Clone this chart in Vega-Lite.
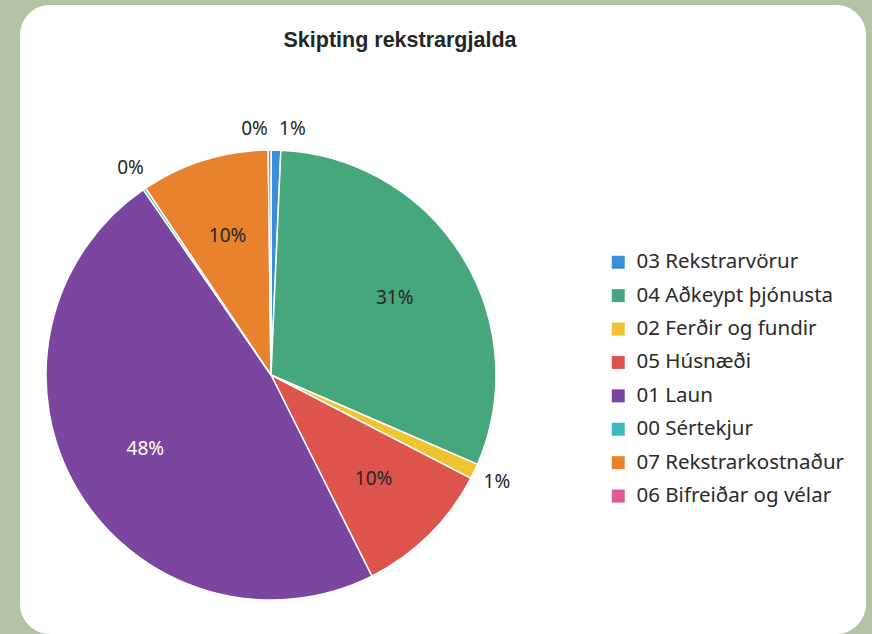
{
  "$schema": "https://vega.github.io/schema/vega-lite/v6.json",
  "width": 846,
  "height": 629,
  "autosize": {"type": "none"},
  "padding": {"left": 20, "top": 5, "right": 6, "bottom": 0},
  "background": "#b4c3a4",
  "view": {"fill": "white", "cornerRadius": 30, "stroke": null},
  "title": {
    "text": "Skipting rekstrargjalda",
    "font": "Liberation Sans",
    "fontSize": 21.5,
    "fontWeight": "bold",
    "color": "#252525",
    "offset": -46,
    "dx": -43
  },
  "data": {
    "values": [
      {"cat": "03 Rekstrarvörur", "value": 0.7, "rank": 1, "label": "1%"},
      {"cat": "04 Aðkeypt þjónusta", "value": 30.8, "rank": 2, "label": "31%"},
      {"cat": "02 Ferðir og fundir", "value": 1.1, "rank": 3, "label": "1%"},
      {"cat": "05 Húsnæði", "value": 10.0, "rank": 4, "label": "10%"},
      {"cat": "01 Laun", "value": 47.8, "rank": 5, "label": "48%"},
      {"cat": "00 Sértekjur", "value": 0.2, "rank": 6, "label": "0%"},
      {"cat": "07 Rekstrarkostnaður", "value": 9.2, "rank": 7, "label": "10%"},
      {"cat": "06 Bifreiðar og vélar", "value": 0.2, "rank": 8, "label": "0%"}
    ]
  },
  "encoding": {
    "theta": {"field": "value", "type": "quantitative", "stack": true},
    "order": {"field": "rank", "type": "quantitative"},
    "x": {"value": 251},
    "y": {"value": 370}
  },
  "layer": [
    {
      "mark": {"type": "arc", "outerRadius": 225, "stroke": "white", "strokeWidth": 1.5},
      "encoding": {
        "color": {
          "field": "cat",
          "type": "nominal",
          "scale": {
            "domain": ["03 Rekstrarvörur", "04 Aðkeypt þjónusta", "02 Ferðir og fundir", "05 Húsnæði", "01 Laun", "00 Sértekjur", "07 Rekstrarkostnaður", "06 Bifreiðar og vélar"],
            "range": ["#3a8fdc", "#46a77c", "#f1c232", "#dc544b", "#7b46a0", "#3bbcbc", "#e8822e", "#df5a91"]
          },
          "legend": {
            "title": null,
            "orient": "none",
            "legendX": 588,
            "legendY": 247,
            "symbolType": "square",
            "symbolSize": 169,
            "symbolStrokeWidth": 0,
            "labelFont": "Noto Sans",
            "labelFontSize": 20.5,
            "labelColor": "#2a2a2a",
            "labelOffset": 8,
            "labelLimit": 400,
            "rowPadding": 12.4
          }
        }
      }
    },
    {
      "mark": {"type": "text", "radius": 146, "font": "Noto Sans", "fontSize": 19},
      "encoding": {
        "text": {"condition": {"test": "datum.value >= 5", "field": "label"}, "value": ""},
        "color": {"condition": {"test": "datum.cat === '01 Laun'", "value": "white"}, "value": "#262626"}
      }
    },
    {
      "mark": {"type": "text", "radius": 250, "font": "Noto Sans", "fontSize": 19, "color": "#262626"},
      "encoding": {
        "text": {"condition": {"test": "datum.cat === '02 Ferðir og fundir' || datum.cat === '00 Sértekjur'", "field": "label"}, "value": ""}
      }
    },
    {
      "mark": {"type": "text", "radius": 246, "font": "Noto Sans", "fontSize": 19, "color": "#262626", "dx": 16},
      "encoding": {
        "text": {"condition": {"test": "datum.cat === '03 Rekstrarvörur'", "field": "label"}, "value": ""}
      }
    },
    {
      "mark": {"type": "text", "radius": 246, "font": "Noto Sans", "fontSize": 19, "color": "#262626", "dx": -15},
      "encoding": {
        "text": {"condition": {"test": "datum.cat === '06 Bifreiðar og vélar'", "field": "label"}, "value": ""}
      }
    }
  ]
}
